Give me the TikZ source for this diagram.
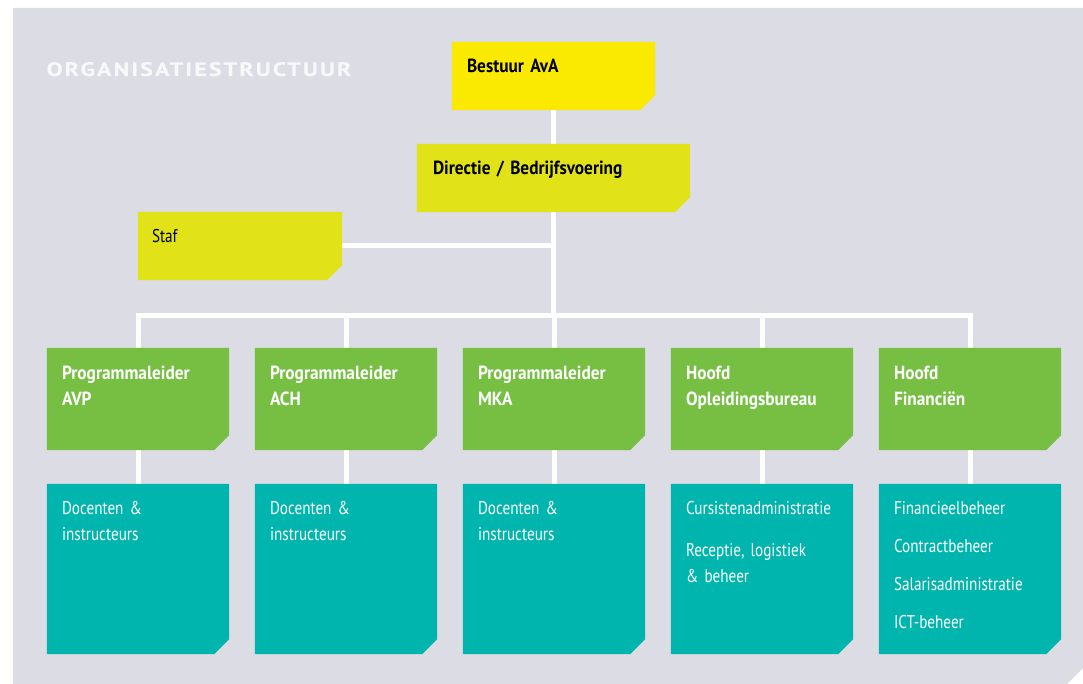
\documentclass[tikz,border=0pt]{standalone}
\usepackage{fontspec}
\setmainfont{PT Sans}[FakeStretch=0.82]
\newfontfamily\hdfont{PT Sans Bold}[FakeStretch=0.91]
\newfontfamily\titlefont{PT Sans Bold}[LetterSpace=11, FakeStretch=1.22, FakeBold=0.3]
\usetikzlibrary{calc}
\definecolor{panelc}{RGB}{220,220,228}
\definecolor{titlec}{RGB}{248,248,250}
\definecolor{yelc}{RGB}{250,233,0}
\definecolor{limec}{RGB}{225,227,24}
\definecolor{greenc}{RGB}{118,191,67}
\definecolor{tealc}{RGB}{0,181,173}
\DeclareRobustCommand{\lblfont}{\fontsize{18.5}{26}\selectfont\spaceskip=4pt plus 1pt minus 1pt\relax}
\DeclareRobustCommand{\hlfont}{\hdfont\fontsize{19}{26}\selectfont\spaceskip=4.2pt plus 1pt minus 1pt\relax}
\pgfdeclarelayer{panel}\pgfdeclarelayer{lines}\pgfsetlayers{panel,lines,main}
\tikzset{
  orgbox/.style={rectangle, inner sep=0pt, draw=none},
  topbox/.style={orgbox, minimum height=68pt},
  headbox/.style={orgbox, minimum width=182pt, minimum height=102pt},
  staffbox/.style={orgbox, minimum width=182pt, minimum height=170pt},
  lbl/.style={anchor=base west, inner sep=0pt, text width=260pt, align=left, font=\lblfont},
  hl/.style={lbl, font=\hlfont},
  conn/.style={draw=white, line width=5pt},
}
% fill a box with its south-east corner cut off
\newcommand{\cutfill}[2]{%
  \fill[#2] (#1.north west) -- (#1.north east) -- ($(#1.south east)+(0,-15)$)
    -- ($(#1.south east)+(-15,0)$) -- (#1.south west) -- cycle;}
\begin{document}
\begin{tikzpicture}[x=1pt,y=-1pt]
\useasboundingbox (0,0) rectangle (1083,684);
\begin{pgfonlayer}{panel}
\fill[panelc] (13,8) -- (1083,8) -- (1083,668) -- (1067,684) -- (13,684) -- cycle;
\end{pgfonlayer}
\node[anchor=base west, inner sep=0pt, text=titlec, font=\titlefont\fontsize{19.5}{24}\selectfont] (title) at (46.5,76) {ORGANISATIESTRUCTUUR};

\node[topbox, minimum width=203pt] (bestuur) at (553.5,76) {};
\node[topbox, minimum width=273pt] (directie) at (553.5,178) {};
\node[topbox, minimum width=204pt] (staf) at (240,246) {};
\cutfill{bestuur}{yelc}
\cutfill{directie}{limec}
\cutfill{staf}{limec}

\node[hl] (tbestuur) at ($(bestuur.north west)+(15,31)$) {Bestuur AvA};
\node[hl] (tdirectie) at ($(directie.north west)+(16,31)$) {Directie / Bedrijfsvoering};
\node[lbl] (tstaf) at ($(staf.north west)+(14,31)$) {Staf};

\foreach \i/\x in {1/138,2/346,3/554,4/762,5/970}{
  \node[headbox] (g\i) at (\x,399) {};
  \node[staffbox] (t\i) at (\x,569) {};
  \cutfill{g\i}{greenc}
  \cutfill{t\i}{tealc}
}
\node[hl, text=white] (lg1) at ($(g1.north west)+(15,32)$) {Programmaleider\\AVP};
\node[hl, text=white] (lg2) at ($(g2.north west)+(15,32)$) {Programmaleider\\ACH};
\node[hl, text=white] (lg3) at ($(g3.north west)+(15,32)$) {Programmaleider\\MKA};
\node[hl, text=white] (lg4) at ($(g4.north west)+(15,32)$) {Hoofd\\Opleidingsbureau};
\node[hl, text=white] (lg5) at ($(g5.north west)+(15,32)$) {Hoofd\\Financiën};

\tikzset{sl/.style={lbl, text=white}}
\node[sl] (lt1) at ($(t1.north west)+(15,31)$) {Docenten \&\\instructeurs};
\node[sl] (lt2) at ($(t2.north west)+(15,31)$) {Docenten \&\\instructeurs};
\node[sl] (lt3) at ($(t3.north west)+(15,31)$) {Docenten \&\\instructeurs};
\node[sl] (lt4) at ($(t4.north west)+(15,31)$) {Cursistenadministratie\\[16pt]Receptie, logistiek\\\& beheer};
\node[sl] (lt5) at ($(t5.north west)+(15,31)$) {Financieelbeheer\\[12pt]Contractbeheer\\[12pt]Salarisadministratie\\[12pt]ICT-beheer};

\coordinate (bus) at (553.5,315.5);
\begin{pgfonlayer}{lines}
\draw[conn] (bestuur.south) -- (directie.north);
\draw[conn] (directie.south) -- (bus);
\draw[conn] (staf.east) -- (staf.east -| directie.south);
\draw[conn] (g1.north) -- (g1.north |- bus) -- (g5.north |- bus) -- (g5.north);
\foreach \i in {2,3,4}{\draw[conn] (g\i.north |- bus) -- (g\i.north);}
\foreach \i in {1,...,5}{\draw[conn] (g\i.south) -- (t\i.north);}
\end{pgfonlayer}
\end{tikzpicture}
\end{document}
